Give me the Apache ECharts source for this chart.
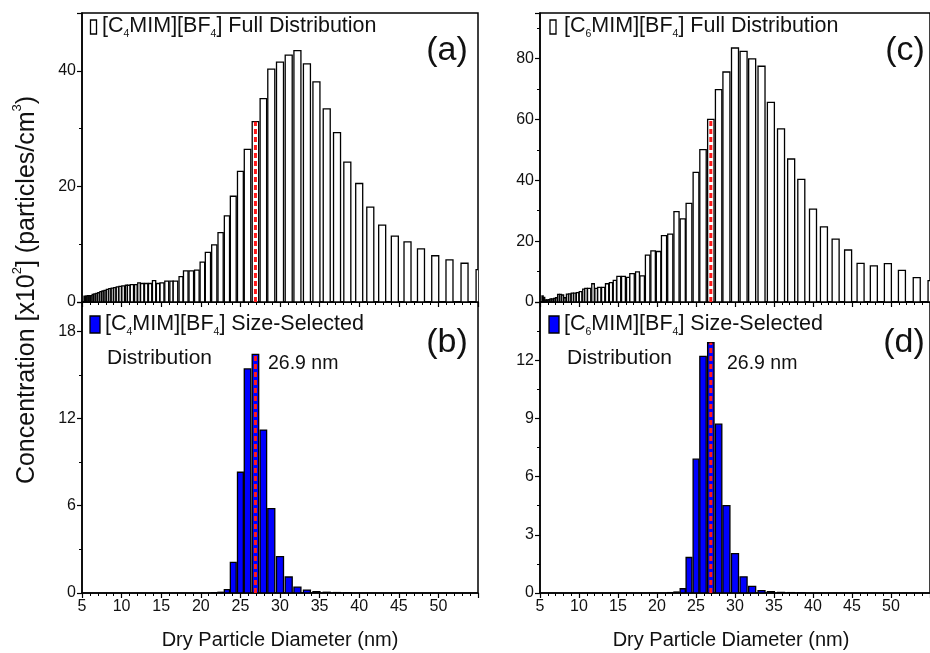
<!DOCTYPE html>
<html>
<head>
<meta charset="utf-8">
<script src="https://cdn.jsdelivr.net/npm/echarts@6/dist/echarts.min.js"></script>
<style>html,body{margin:0;padding:0;background:#fff}#c{width:930px;height:653px}</style>
</head>
<body>
<div id="c"></div>
<script>
// SMPS bin mid-point diameters (nm)
const fullBins = [5.33,5.52,5.73,5.94,6.15,6.38,6.61,6.85,7.10,7.37,7.64,7.91,8.20,8.51,8.82,9.14,9.47,9.82,10.2,10.6,10.9,11.3,11.8,12.2,12.6,13.1,13.6,14.1,14.6,15.1,15.7,16.3,16.8,17.5,18.1,18.8,19.5,20.2,20.9,21.7,22.5,23.3,24.1,25.0,25.9,26.9,27.9,28.9,30.0,31.1,32.2,33.4,34.6,35.9,37.2,38.5,40.0,41.4,42.9,44.5,46.1,47.8,49.6,51.4,53.3,55.2];
// (a) [C4MIM][BF4] full distribution (x10^2 particles/cm3)
const fullC4 = [1.0,1.0,1.1,1.1,1.1,1.3,1.4,1.5,1.6,1.8,1.9,2.0,2.2,2.3,2.4,2.5,2.6,2.7,2.8,2.9,2.9,3.0,3.0,3.3,3.2,3.2,3.2,3.7,3.2,3.3,3.6,3.6,3.6,4.4,5.4,5.4,5.5,6.9,8.6,9.9,12.0,14.9,18.3,22.6,26.4,31.2,35.2,40.3,41.5,42.7,43.5,41.2,38.1,33.4,29.3,24.2,20.5,16.4,13.3,11.4,10.4,9.2,8.0,7.3,6.7,5.6];
// (c) [C6MIM][BF4] full distribution
const fullC6 = [2.0,1.5,0.7,0.7,0.8,1.0,1.0,1.2,1.4,2.5,2.5,2.3,1.4,2.6,2.7,2.9,2.9,3.1,3.4,4.2,4.5,4.5,6.0,4.5,4.8,4.8,6.0,6.4,7.1,8.4,8.4,8.1,9.3,9.9,8.6,15.4,16.8,16.6,21.8,22.3,29.7,27.3,32.4,42.6,50.1,60.0,69.8,75.6,83.5,82.4,79.9,77.5,65.6,56.9,47.0,40.3,30.5,24.7,20.7,17.1,12.7,11.9,12.6,10.4,8.0,7.0];
// size-selected bins
const selBins = [21.7,22.5,23.3,24.1,25.0,25.9,26.9,27.9,28.9,30.0,31.1,32.2,33.4,34.6,35.9,37.2,38.5];
// (b) [C4MIM][BF4] size-selected
const selC4 = [0.02,0.05,0.23,2.1,8.3,15.4,16.4,11.2,5.8,2.5,1.1,0.4,0.2,0.09,0.05,0.03,0.02];
// (d) [C6MIM][BF4] size-selected
const selC6 = [0.02,0.05,0.22,1.83,6.9,12.2,12.9,8.7,4.5,2.03,0.83,0.34,0.12,0.07,0.03,0.02,0.01];
const selectedSize = 26.9;
const xMin = 5, xMax = 55, xStep = 5;

const FF = 'Arial, "Liberation Sans", Helvetica, sans-serif';
const chart = echarts.init(document.getElementById('c'));

function makeBar(bins, fill) {
  return function (params, api) {
    const i = params.dataIndex;
    const x = api.value(0), v = api.value(1);
    const sp = i < bins.length - 1 ? bins[i + 1] - bins[i] : bins[i] - bins[i - 1];
    const spPx = api.size([sp, 0])[0];
    const w = Math.min(0.82 * spPx, 7);
    const p0 = api.coord([x, 0]);
    const p1 = api.coord([x, v]);
    return {
      type: 'rect',
      shape: { x: p0[0] - w / 2, y: p1[1], width: w, height: Math.max(p0[1] - p1[1], 0.5) },
      style: { fill: fill, stroke: '#000', lineWidth: 1.3 }
    };
  };
}

function xAx(g, showLabel) {
  return {
    type: 'value', gridIndex: g, min: xMin, max: xMax, interval: xStep,
    axisLine: { onZero: false, lineStyle: { color: '#000', width: 1.5 } },
    axisTick: { length: 5, lineStyle: { color: '#000', width: 1.2 } },
    minorTick: { show: true, splitNumber: 5, length: 3, lineStyle: { color: '#000', width: 1 } },
    splitLine: { show: false },
    axisLabel: { show: showLabel, showMaxLabel: false, fontSize: 16, color: '#111', margin: 6, fontFamily: FF }
  };
}
function yAx(g, max, interval) {
  return {
    type: 'value', gridIndex: g, min: 0, max: max, interval: interval,
    axisLine: { onZero: false, lineStyle: { color: '#000', width: 1.5 } },
    axisTick: { length: 5, lineStyle: { color: '#000', width: 1.2 } },
    minorTick: { show: true, splitNumber: 2, length: 3, lineStyle: { color: '#000', width: 1 } },
    splitLine: { show: false },
    axisLabel: { showMaxLabel: false, fontSize: 16, color: '#111', margin: 6, fontFamily: FF }
  };
}
function markerLine(xi, yi, bins, vals) {
  const idx = bins.indexOf(selectedSize);
  return {
    type: 'line', xAxisIndex: xi, yAxisIndex: yi, symbol: 'none', z: 5, silent: true,
    data: [[selectedSize, 0], [selectedSize, vals[idx]]],
    lineStyle: { color: '#ff1a1a', width: 3, type: [5, 3] }
  };
}
const gridStyle = { show: true, borderColor: '#000', borderWidth: 1.5, backgroundColor: 'transparent' };
const rich = {
  m: { fontSize: 21.5, fontFamily: FF, color: '#111', lineHeight: 28 },
  s: { fontSize: 10.5, fontFamily: FF, color: '#111', verticalAlign: 'bottom', lineHeight: 10 }
};
const richT = {
  m: { fontSize: 25, fontFamily: FF, color: '#111', lineHeight: 32 },
  u: { fontSize: 13, fontFamily: FF, color: '#111', verticalAlign: 'top', lineHeight: 13 }
};
function legText(x, y, txt) {
  return { type: 'text', x: x, y: y, style: { text: txt, rich: rich, fontSize: 21.5, fontFamily: FF, fill: '#111', verticalAlign: 'middle' } };
}
function plain(x, y, txt, size, align) {
  return { type: 'text', x: x, y: y, style: { text: txt, fontSize: size, fontFamily: FF, fill: '#111', align: align || 'left', verticalAlign: 'middle' } };
}

chart.setOption({
  animation: false,
  grid: [
    Object.assign({ left: 82, top: 13, width: 396, height: 289 }, gridStyle),
    Object.assign({ left: 82, top: 302, width: 396, height: 291 }, gridStyle),
    Object.assign({ left: 540, top: 13, width: 396.5, height: 289 }, gridStyle),
    Object.assign({ left: 540, top: 302, width: 396.5, height: 291 }, gridStyle)
  ],
  xAxis: [xAx(0, false), xAx(1, true), xAx(2, false), xAx(3, true)],
  yAxis: [yAx(0, 50, 20), yAx(1, 20, 6), yAx(2, 95, 20), yAx(3, 15, 3)],
  series: [
    { type: 'custom', xAxisIndex: 0, yAxisIndex: 0, clip: true, renderItem: makeBar(fullBins, '#fff'), data: fullBins.map((b, i) => [b, fullC4[i]]) },
    markerLine(0, 0, fullBins, fullC4),
    { type: 'custom', xAxisIndex: 1, yAxisIndex: 1, clip: true, renderItem: makeBar(selBins, '#0000ff'), data: selBins.map((b, i) => [b, selC4[i]]) },
    markerLine(1, 1, selBins, selC4),
    { type: 'custom', xAxisIndex: 2, yAxisIndex: 2, clip: true, renderItem: makeBar(fullBins, '#fff'), data: fullBins.map((b, i) => [b, fullC6[i]]) },
    markerLine(2, 2, fullBins, fullC6),
    { type: 'custom', xAxisIndex: 3, yAxisIndex: 3, clip: true, renderItem: makeBar(selBins, '#0000ff'), data: selBins.map((b, i) => [b, selC6[i]]) },
    markerLine(3, 3, selBins, selC6)
  ],
  graphic: [
    { type: 'rect', shape: { x: 90.5, y: 20, width: 6, height: 14 }, style: { fill: '#fff', stroke: '#000', lineWidth: 1.3 } },
    legText(102, 26, '{m|[C}{s|4}{m|MIM][BF}{s|4}{m|] Full Distribution}'),
    plain(447, 51, '(a)', 34, 'center'),
    { type: 'rect', shape: { x: 90, y: 316, width: 10, height: 17 }, style: { fill: '#0000ff', stroke: '#000', lineWidth: 1.3 } },
    legText(105, 324, '{m|[C}{s|4}{m|MIM][BF}{s|4}{m|] Size-Selected}'),
    plain(107, 358, 'Distribution', 21),
    plain(268, 364, '26.9 nm', 19.5),
    plain(447, 343, '(b)', 34, 'center'),
    { type: 'rect', shape: { x: 550, y: 20, width: 6, height: 14 }, style: { fill: '#fff', stroke: '#000', lineWidth: 1.3 } },
    legText(564, 26, '{m|[C}{s|6}{m|MIM][BF}{s|4}{m|] Full Distribution}'),
    plain(905, 51, '(c)', 34, 'center'),
    { type: 'rect', shape: { x: 549, y: 316, width: 10, height: 17 }, style: { fill: '#0000ff', stroke: '#000', lineWidth: 1.3 } },
    legText(564, 324, '{m|[C}{s|6}{m|MIM][BF}{s|4}{m|] Size-Selected}'),
    plain(567, 358, 'Distribution', 21),
    plain(727, 364, '26.9 nm', 19.5),
    plain(904, 343, '(d)', 34, 'center'),
    { type: 'text', x: 27, y: 290, rotation: Math.PI / 2,
      style: { text: '{m|Concentration [x10}{u|2}{m|] (particles/cm}{u|3}{m|)}', rich: richT, align: 'center', verticalAlign: 'middle', fontSize: 25, fontFamily: FF, fill: '#111' } },
    plain(280, 640, 'Dry Particle Diameter (nm)', 20, 'center'),
    plain(731, 640, 'Dry Particle Diameter (nm)', 20, 'center')
  ]
});
</script>
</body>
</html>
